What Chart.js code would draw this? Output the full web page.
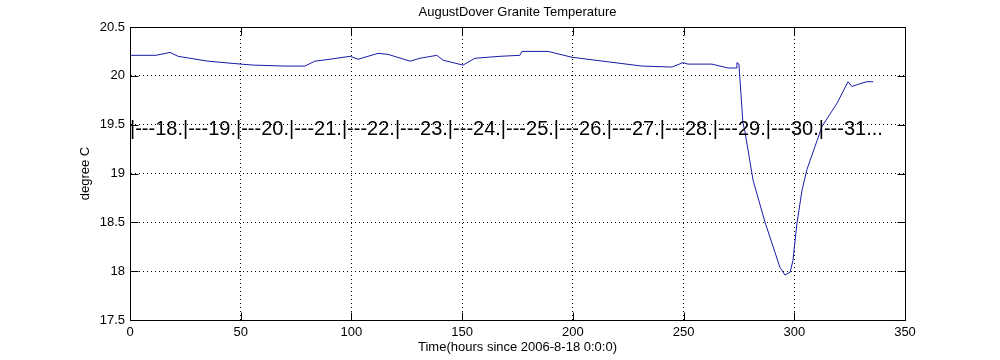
<!DOCTYPE html>
<html>
<head>
<meta charset="utf-8">
<script src="https://cdn.jsdelivr.net/npm/chart.js@4/dist/chart.umd.min.js"></script>
<style>
  html, body { margin: 0; padding: 0; background: #fff; }
  #wrap { width: 1000px; height: 360px; }
</style>
</head>
<body>
<div id="wrap"><canvas id="temp-chart"></canvas></div>
<script>
// hours since 2006-8-18 0:0:0
const hours = [0, 11.7, 18.1, 21.7, 35.2, 50.1, 55.5, 70, 79, 83.5, 90.3, 99.4, 103, 112, 116.5,
  126.5, 131, 138.6, 141.4, 150.4, 155.8, 167.1, 176.1, 177, 188.8, 199.6, 231.2, 244.8, 249.7,
  252, 262.8, 270.1, 273.7, 274.1, 275, 276.8, 277.7, 281.4, 286.8, 293.5, 295.8, 298.1, 299.4,
  301.2, 303.5, 305.7, 312.5, 319.3, 324.3, 326, 329.7, 332.8, 335.6]
const temps = [20.21, 20.21, 20.24, 20.20, 20.15, 20.12, 20.11, 20.10, 20.10, 20.15, 20.17, 20.20, 20.17, 20.23, 20.22,
  20.15, 20.18, 20.21, 20.16, 20.11, 20.18, 20.20, 20.21, 20.25, 20.25, 20.19, 20.10, 20.09, 20.135,
  20.12, 20.12, 20.08, 20.08, 20.135, 20.12, 19.52, 19.43, 18.93, 18.50, 18.04, 17.96, 17.99, 18.11,
  18.49, 18.83, 19.04, 19.48, 19.72, 19.94, 19.89, 19.92, 19.94, 19.94]

// day-of-month marker text, placed at (0, 19.45)
const days = [18, 19, 20, 21, 22, 23, 24, 25, 26, 27, 28, 29, 30, 31]
const dayLabelPos = { x: 0, y: 19.45 }

const xTicks = { min: 0, max: 350, step: 50 }
const yTicks = { min: 17.5, max: 20.5, step: 0.5 }

const FONT = "'Liberation Sans', Arial, Helvetica, sans-serif"
const TICK_LEN = 8

const dayText = days.map((d, i) => i === days.length - 1 ? `|---${d}...` : `|---${d}.`).join("")

// MATLAB style box: top/right edges, inward ticks, and the day text
const boxPlugin = {
  id: "matlabBox",
  afterDatasetsDraw(chart) {
    const { ctx, chartArea: a, scales } = chart
    ctx.save()
    ctx.strokeStyle = "#000"
    ctx.lineWidth = 1
    ctx.beginPath()
    const L = Math.round(a.left) + 0.5, R = Math.round(a.right) + 0.5
    const T = Math.round(a.top) + 0.5, B = Math.round(a.bottom) + 0.5
    ctx.moveTo(L, T); ctx.lineTo(R, T); ctx.lineTo(R, B); ctx.lineTo(L, B); ctx.closePath()
    scales.x.ticks.forEach(t => {
      const px = Math.round(scales.x.getPixelForValue(t.value)) + 0.5
      ctx.moveTo(px, B); ctx.lineTo(px, B - TICK_LEN)
      ctx.moveTo(px, T); ctx.lineTo(px, T + TICK_LEN)
    })
    scales.y.ticks.forEach(t => {
      const py = Math.round(scales.y.getPixelForValue(t.value)) + 0.5
      ctx.moveTo(L, py); ctx.lineTo(L + TICK_LEN, py)
      ctx.moveTo(R, py); ctx.lineTo(R - TICK_LEN, py)
    })
    ctx.stroke()

    ctx.fillStyle = "#000"
    ctx.font = `20px ${FONT}`
    ctx.textBaseline = "middle"
    ctx.textAlign = "left"
    ctx.fillText(dayText, scales.x.getPixelForValue(dayLabelPos.x), scales.y.getPixelForValue(dayLabelPos.y))
    ctx.restore()
  }
}

const ctx = document.getElementById("temp-chart").getContext("2d")
new Chart(ctx, {
  type: "line",
  data: {
    datasets: [{
      data: hours.map((h, i) => ({ x: h, y: temps[i] })),
      borderColor: "#1a1aa8",
      borderWidth: 1,
      pointRadius: 0,
      tension: 0,
      fill: false
    }]
  },
  options: {
    responsive: true,
    maintainAspectRatio: false,
    animation: false,
    layout: { padding: { left: 0, right: 95, top: 0, bottom: 0 } },
    plugins: {
      legend: { display: false },
      tooltip: { enabled: false },
      title: {
        display: true,
        fullSize: false,
        text: "AugustDover Granite Temperature",
        color: "#000",
        font: { family: FONT, size: 13, weight: "normal", lineHeight: 1.2 },
        padding: { top: 5, bottom: 6.4 }
      }
    },
    scales: {
      x: {
        type: "linear",
        min: xTicks.min,
        max: xTicks.max,
        ticks: { stepSize: xTicks.step, color: "#000", padding: 5, maxRotation: 0,
          font: { family: FONT, size: 13 } },
        grid: { color: "#000", lineWidth: 1, drawTicks: false },
        border: { display: true, color: "#000", width: 1, dash: [1, 3] },
        title: { display: true, text: "Time(hours since 2006-8-18 0:0:0)", color: "#000",
          font: { family: FONT, size: 13, lineHeight: 1.2 }, padding: { top: 0, bottom: 4.8 } },
        afterFit: (axis) => { axis.height = 40 }
      },
      y: {
        type: "linear",
        min: yTicks.min,
        max: yTicks.max,
        ticks: { stepSize: yTicks.step, color: "#000", padding: 5,
          callback: (v) => String(v),
          font: { family: FONT, size: 13 } },
        grid: { color: "#000", lineWidth: 1, drawTicks: false },
        border: { display: true, color: "#000", width: 1, dash: [1, 3] },
        title: { display: true, text: "degree C", color: "#000",
          font: { family: FONT, size: 13, lineHeight: 1.2 }, padding: { top: 78, bottom: 0 } },
        afterFit: (axis) => { axis.width = 130 }
      }
    }
  },
  plugins: [boxPlugin]
})
</script>
</body>
</html>
